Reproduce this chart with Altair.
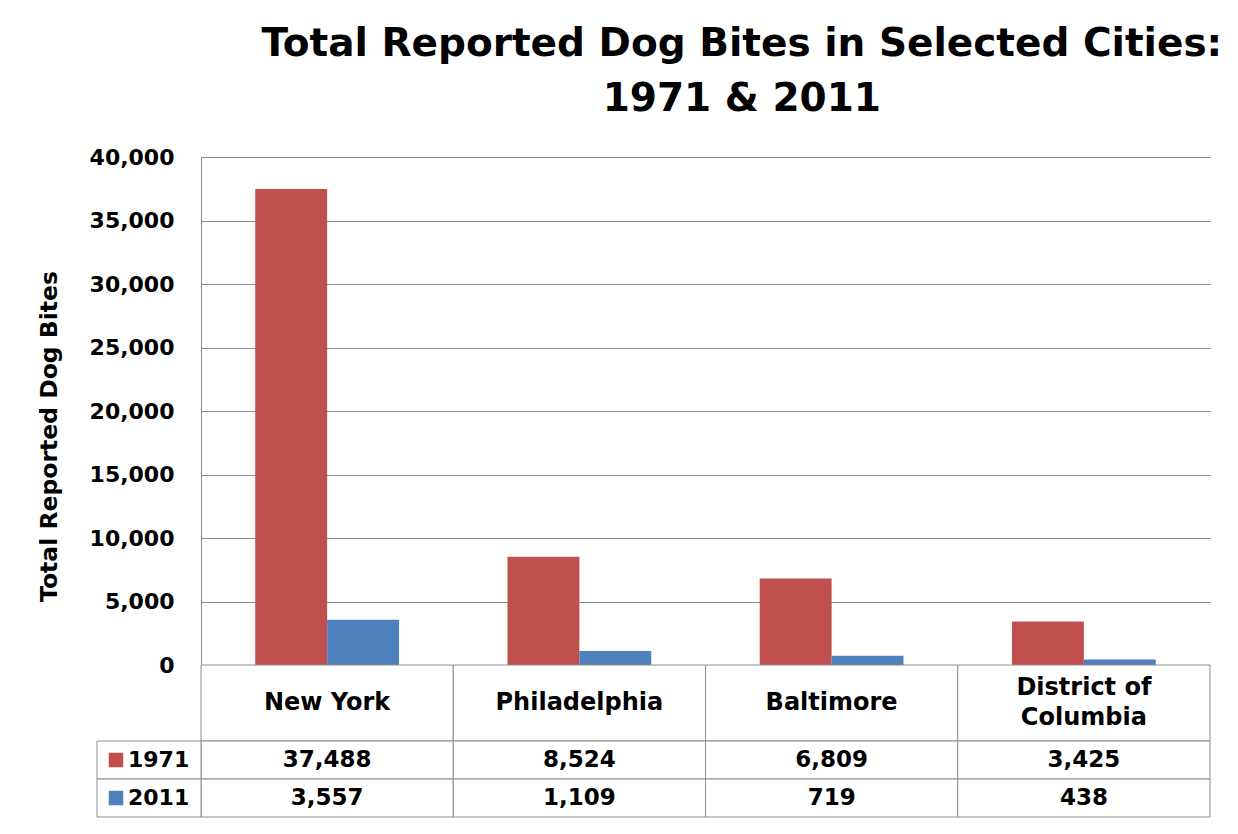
import altair as alt
import pandas as pd

cities = ["New York", "Philadelphia", "Baltimore", "District of Columbia"]
header_lines = [["New York"], ["Philadelphia"], ["Baltimore"], ["District of", "Columbia"]]
years = ["1971", "2011"]
bites_1971 = [37488, 8524, 6809, 3425]
bites_2011 = [3557, 1109, 719, 438]
y_ticks = [0, 5000, 10000, 15000, 20000, 25000, 30000, 35000, 40000]
colors = ["#C0504D", "#4F81BD"]

FONT = "DejaVu Sans"
GRID = "#8c8c8c"

# long table for bars
bars_df = pd.DataFrame(
    [{"city": c, "year": "1971", "bites": v} for c, v in zip(cities, bites_1971)]
    + [{"city": c, "year": "2011", "bites": v} for c, v in zip(cities, bites_2011)]
)

# data table below the chart: header row spans rows 0-2, year rows 2-3 and 3-4
cell_rows, text_rows = [], []
for c, lines, a, b in zip(cities, header_lines, bites_1971, bites_2011):
    cell_rows += [{"city": c, "r0": 0, "r1": 2}, {"city": c, "r0": 2, "r1": 3},
                  {"city": c, "r0": 3, "r1": 4}]
    n = len(lines)
    for i, ln in enumerate(lines):
        text_rows.append({"city": c, "rm": 1 + (i - (n - 1) / 2) * 0.79, "label": ln, "hdr": 1})
    text_rows.append({"city": c, "rm": 2.5, "label": f"{a:,}", "hdr": 0})
    text_rows.append({"city": c, "rm": 3.5, "label": f"{b:,}", "hdr": 0})
cells_df = pd.DataFrame(cell_rows)
text_df = pd.DataFrame(text_rows)

legend_df = pd.DataFrame({"year": years, "r0": [2, 3], "r1": [3, 4]})
legend_df["rm"] = (legend_df["r0"] + legend_df["r1"]) / 2

W = 1009
color_scale = alt.Scale(domain=years, range=colors)

bars = (
    alt.Chart(bars_df)
    .mark_bar()
    .encode(
        x=alt.X("city:N", sort=cities, axis=None,
                scale=alt.Scale(paddingInner=0.43, paddingOuter=0.215)),
        xOffset=alt.XOffset("year:N", sort=years),
        y=alt.Y("bites:Q", scale=alt.Scale(domain=[0, 40000]),
                axis=alt.Axis(values=y_ticks, format=",d", title="Total Reported Dog Bites",
                              grid=True, gridColor=GRID, gridWidth=1,
                              domain=True, domainColor=GRID, ticks=False,
                              labelFont=FONT, labelFontSize=22, labelFontWeight="bold",
                              labelColor="black", labelPadding=27,
                              titleFont=FONT, titleFontSize=23.5, titleFontWeight="bold",
                              titleColor="black", titlePadding=28, titleY=279)),
        color=alt.Color("year:N", scale=color_scale, legend=None),
    )
    .properties(width=W, height=508)
)

ysc = alt.Scale(domain=[0, 4], reverse=True)
xsc = alt.Scale(paddingInner=0, paddingOuter=0)

cells = alt.Chart(cells_df).mark_rect(fill="white", stroke=GRID, strokeWidth=1).encode(
    x=alt.X("city:N", sort=cities, axis=None, scale=xsc),
    y=alt.Y("r0:Q", scale=ysc, axis=None),
    y2="r1:Q",
)
cell_text = alt.Chart(text_df).mark_text(
    font=FONT, fontWeight="bold", color="black"
).encode(
    x=alt.X("city:N", sort=cities, axis=None, scale=xsc),
    y=alt.Y("rm:Q", scale=ysc, axis=None),
    text="label:N",
    size=alt.Size("hdr:O", scale=alt.Scale(domain=[0, 1], range=[23, 24]), legend=None),
)
leg_cells = alt.Chart(legend_df).mark_rect(fill="white", stroke=GRID, strokeWidth=1).encode(
    x=alt.value(-104), x2=alt.value(0),
    y=alt.Y("r0:Q", scale=ysc, axis=None), y2="r1:Q",
)
leg_sq = alt.Chart(legend_df).mark_square(size=210, opacity=1).encode(
    x=alt.value(-85),
    y=alt.Y("rm:Q", scale=ysc, axis=None),
    color=alt.Color("year:N", scale=color_scale, legend=None),
)
leg_text = alt.Chart(legend_df).mark_text(
    font=FONT, fontSize=22, fontWeight="bold", color="black", align="left"
).encode(
    x=alt.value(-73),
    y=alt.Y("rm:Q", scale=ysc, axis=None),
    text="year:N",
)
table = alt.layer(cells, cell_text, leg_cells, leg_sq, leg_text).properties(width=W, height=152)

chart = (
    alt.vconcat(bars, table, spacing=0, bounds="flush")
    .resolve_scale(x="independent", y="independent")
    .properties(
        title=alt.Title(
            ["Total Reported Dog Bites in Selected Cities:", "1971 & 2011"],
            font=FONT, fontSize=39, fontWeight="bold", color="black",
            anchor="middle", dx=118, offset=27, lineHeight=55,
        ),
        padding={"left": 29, "top": 17, "right": 5, "bottom": 5},
    )
    .configure_view(stroke=None)
)

chart.save("out.html", embed_options={"renderer": "svg", "actions": False})
